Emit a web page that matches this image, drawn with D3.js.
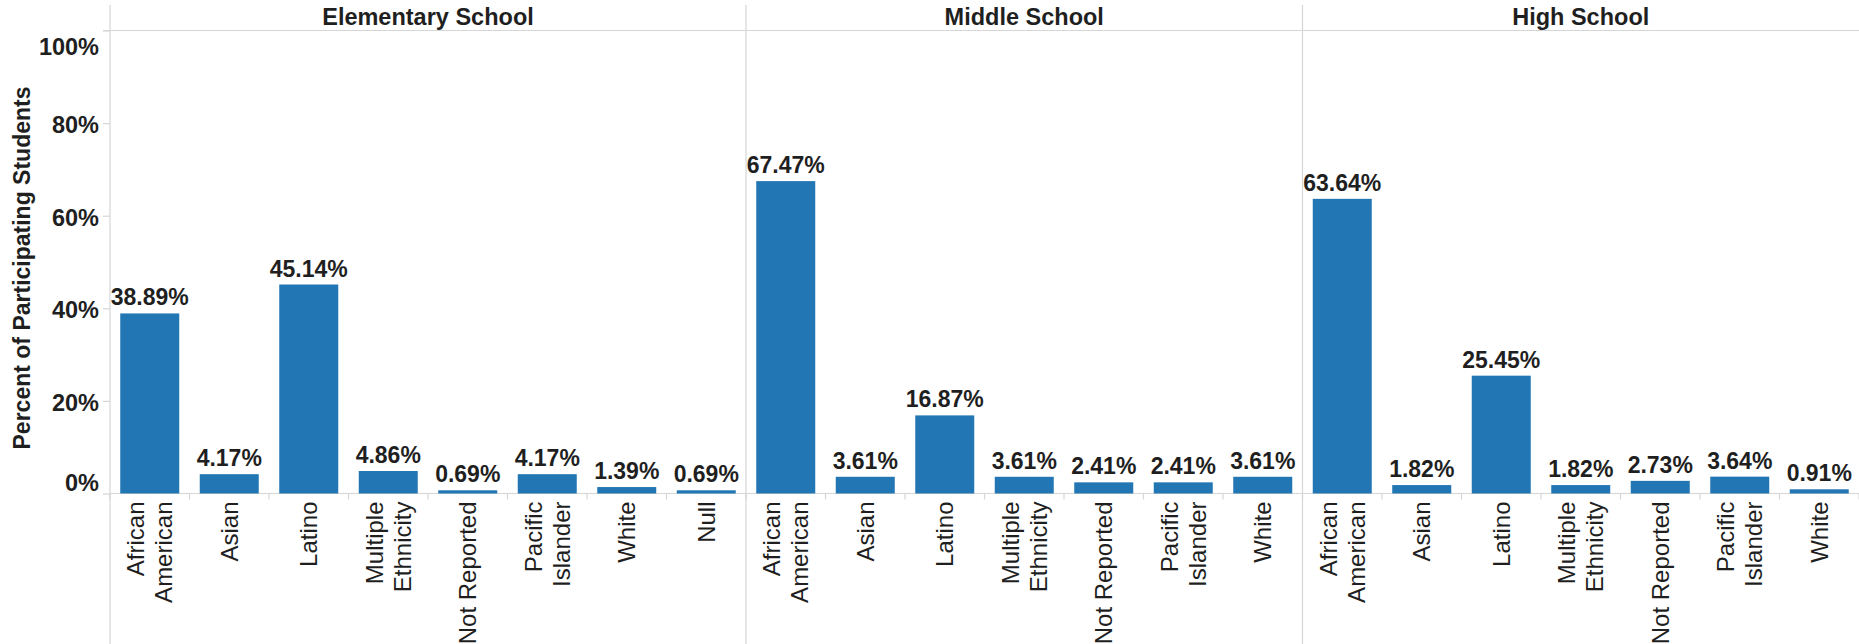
<!DOCTYPE html>
<html>
<head>
<meta charset="utf-8">
<script src="https://cdn.jsdelivr.net/npm/d3@7"></script>
<style>
  html, body { margin: 0; padding: 0; background: #fff; }
  svg { display: block; font-family: "Liberation Sans", Arial, sans-serif; }
</style>
</head>
<body>
<svg id="chart" width="1859" height="644"></svg>
<script>
// School levels shown as panels, left to right
const schools = ["Elementary School", "Middle School", "High School"];

// Ethnicity categories per school level
const elementaryCategories = ["African American", "Asian", "Latino", "Multiple Ethnicity", "Not Reported", "Pacific Islander", "White", "Null"];
const middleCategories = ["African American", "Asian", "Latino", "Multiple Ethnicity", "Not Reported", "Pacific Islander", "White"];
const highCategories = ["African American", "Asian", "Latino", "Multiple Ethnicity", "Not Reported", "Pacific Islander", "White"];

// Percent of participating students
const elementaryValues = [38.89, 4.17, 45.14, 4.86, 0.69, 4.17, 1.39, 0.69];
const middleValues = [67.47, 3.61, 16.87, 3.61, 2.41, 2.41, 3.61];
const highValues = [63.64, 1.82, 25.45, 1.82, 2.73, 3.64, 0.91];

// Axis ticks
const yTicks = [0, 20, 40, 60, 80, 100];

// Category labels wrap onto two lines
const labelLines = {
  "African American": ["African", "American"],
  "Multiple Ethnicity": ["Multiple", "Ethnicity"],
  "Pacific Islander": ["Pacific", "Islander"]
};

const panels = [
  { school: schools[0], cats: elementaryCategories, vals: elementaryValues },
  { school: schools[1], cats: middleCategories, vals: middleValues },
  { school: schools[2], cats: highCategories, vals: highValues }
];

const rows = [];
panels.forEach(p => p.cats.forEach((c, i) => rows.push({ school: p.school, cat: c, val: p.vals[i], key: p.school + "|" + c })));

const svg = d3.select("#chart");
const W = 1859, H = 644;
const left = 110, right = W, headerY = 30.5, baseY = 493.5, topY = 5;
const barColor = "#2176b3", gridColor = "#d6d6d6", textColor = "#1f1f1f";

const x = d3.scaleBand()
  .domain(rows.map(d => d.key))
  .range([left, right])
  .paddingInner(0.258)
  .paddingOuter(0.129);

const y = d3.scaleLinear().domain([0, 100]).range([baseY, headerY]);

// Panel bounds computed from the band scale
const step = x.step();
let offset = 0;
panels.forEach(p => {
  p.x0 = left + offset * step;
  p.x1 = p.x0 + p.cats.length * step;
  offset += p.cats.length;
});

// Header rule
svg.append("line")
  .attr("x1", left - 7).attr("x2", right)
  .attr("y1", headerY).attr("y2", headerY)
  .attr("stroke", gridColor).attr("stroke-width", 1.2);

// Zero baseline
svg.append("line")
  .attr("x1", left).attr("x2", right)
  .attr("y1", y(0)).attr("y2", y(0))
  .attr("stroke", gridColor).attr("stroke-width", 1.2);

// Panel separators (first one doubles as the y axis line)
panels.forEach(p => {
  svg.append("line")
    .attr("x1", p.x0).attr("x2", p.x0)
    .attr("y1", topY).attr("y2", H)
    .attr("stroke", gridColor).attr("stroke-width", 1.2);
});

// Panel titles
svg.selectAll("text.header")
  .data(panels)
  .join("text")
  .attr("class", "header")
  .attr("x", d => (d.x0 + d.x1) / 2)
  .attr("y", 25)
  .attr("text-anchor", "middle")
  .attr("font-size", 23.5)
  .attr("font-weight", "bold")
  .attr("fill", textColor)
  .text(d => d.school);

// Y axis
const yAxis = svg.append("g")
  .attr("transform", `translate(${left},0)`)
  .call(d3.axisLeft(y).tickValues(yTicks).tickSize(7).tickPadding(4).tickFormat(d => d + "%"));
yAxis.select(".domain").remove();
yAxis.selectAll(".tick line").attr("stroke", gridColor).attr("stroke-width", 1.2);
yAxis.selectAll(".tick text")
  .attr("font-size", 23.5)
  .attr("font-weight", "bold")
  .attr("font-family", "Liberation Sans, Arial, sans-serif")
  .attr("fill", textColor)
  .attr("dy", d => d === 100 ? "1.0em" : d === 0 ? "-0.12em" : "0.4em");

// Y axis title
svg.append("text")
  .attr("transform", `translate(30,${(headerY + baseY) / 2 + 6}) rotate(-90)`)
  .attr("text-anchor", "middle")
  .attr("font-size", 23)
  .attr("font-weight", "bold")
  .attr("fill", textColor)
  .text("Percent of Participating Students");

// Bars
svg.selectAll("rect.bar")
  .data(rows)
  .join("rect")
  .attr("class", "bar")
  .attr("x", d => x(d.key))
  .attr("width", x.bandwidth())
  .attr("y", d => y(d.val))
  .attr("height", d => y(0) - y(d.val))
  .attr("fill", barColor);

// Value labels
svg.selectAll("text.value")
  .data(rows)
  .join("text")
  .attr("class", "value")
  .attr("x", d => x(d.key) + x.bandwidth() / 2)
  .attr("y", d => y(d.val) - 8)
  .attr("text-anchor", "middle")
  .attr("font-size", 23)
  .attr("font-weight", "bold")
  .attr("fill", textColor)
  .text(d => d.val.toFixed(2) + "%");

// Category ticks between bands
const boundaries = d3.range(0, rows.length + 1).map(i => left + i * step);
svg.selectAll("line.xtick")
  .data(boundaries)
  .join("line")
  .attr("class", "xtick")
  .attr("x1", d => d).attr("x2", d => d)
  .attr("y1", y(0)).attr("y2", y(0) + 6)
  .attr("stroke", gridColor).attr("stroke-width", 1.2);

// Rotated category labels
const lineGap = 28;
const catG = svg.selectAll("g.cat")
  .data(rows)
  .join("g")
  .attr("class", "cat")
  .attr("transform", d => `translate(${x(d.key) + x.bandwidth() / 2},${y(0) + 8})`);

catG.each(function(d) {
  const lines = labelLines[d.cat] || [d.cat];
  const g = d3.select(this);
  lines.forEach((ln, i) => {
    const dx = (i - (lines.length - 1) / 2) * lineGap;
    g.append("text")
      .attr("transform", `translate(${dx},0) rotate(-90)`)
      .attr("text-anchor", "end")
      .attr("dy", "0.36em")
      .attr("font-size", 24)
      .attr("fill", textColor)
      .text(ln);
  });
});
</script>
</body>
</html>
